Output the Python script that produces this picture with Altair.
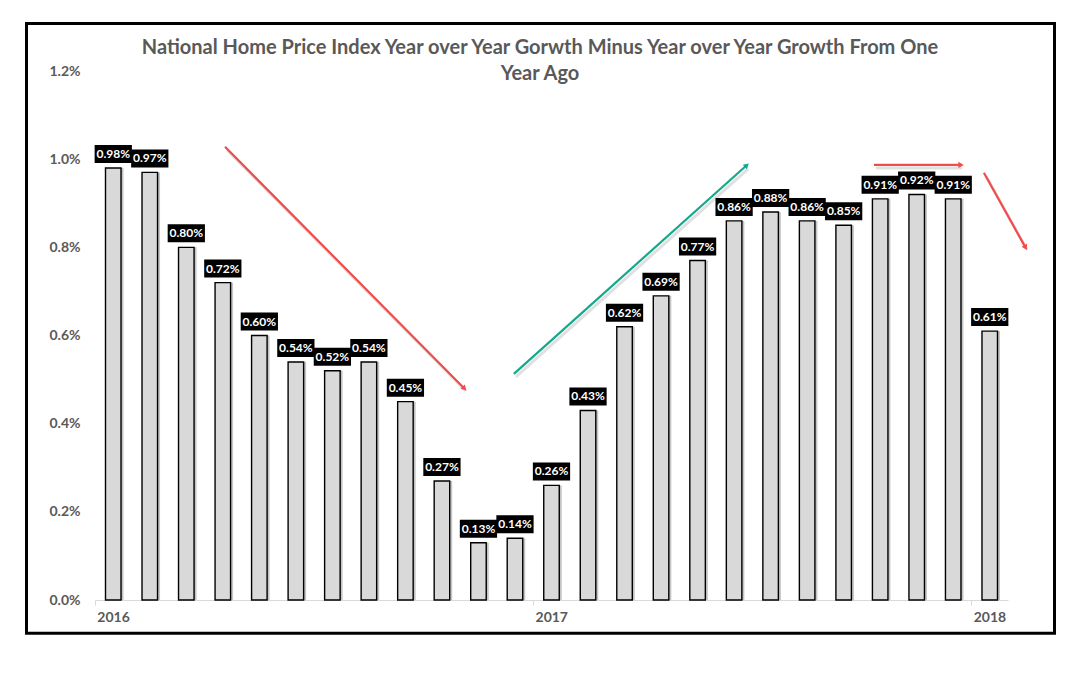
import math
import altair as alt
import pandas as pd

# ---------------- data ----------------
months = ["2016-01", "2016-02", "2016-03", "2016-04", "2016-05", "2016-06",
          "2016-07", "2016-08", "2016-09", "2016-10", "2016-11", "2016-12",
          "2017-01", "2017-02", "2017-03", "2017-04", "2017-05", "2017-06",
          "2017-07", "2017-08", "2017-09", "2017-10", "2017-11", "2017-12",
          "2018-01"]
values_pct = [0.98, 0.97, 0.80, 0.72, 0.60, 0.54, 0.52, 0.54, 0.45, 0.27, 0.13, 0.14,
              0.26, 0.43, 0.62, 0.69, 0.77, 0.86, 0.88, 0.86, 0.85, 0.91, 0.92, 0.91,
              0.61]
year_tick_positions = [0, 12, 24]
year_labels = ["2016", "2017", "2018"]
title_lines = ["National Home Price Index Year over Year Gorwth Minus Year over Year Growth From One",
               "Year Ago"]

# annotation arrows (month index, fraction)
arrow_x1 = [3.56, 11.47, 21.33, 24.34]
arrow_y1 = [0.01028, 0.00513, 0.00987, 0.00969]
arrow_x2 = [10.10, 17.83, 23.69, 25.47]
arrow_y2 = [0.00481, 0.00985, 0.00987, 0.00801]
arrow_colors = ["#F24B4B", "#14A98A", "#F24B4B", "#F24B4B"]

# ---------------- layout ----------------
W, H = 913, 529
X_MAX = 25
Y_MAX = 0.012
GRAY = "#595959"
FONT = "Lato"

bars = pd.DataFrame({"month": months, "pct": values_pct})
bars["v"] = bars["pct"] / 100.0
bars["idx"] = range(len(months))

px_x = W / X_MAX
px_y = H / Y_MAX
angles = []
for a, b, c, d in zip(arrow_x1, arrow_y1, arrow_x2, arrow_y2):
    dx = (c - a) * px_x
    dy = -(d - b) * px_y
    angles.append((math.degrees(math.atan2(dy, dx)) + 90) % 360)
arrows = pd.DataFrame({"x1": arrow_x1, "y1": arrow_y1, "x2": arrow_x2, "y2": arrow_y2,
                       "color": arrow_colors, "angle": angles})

xscale = alt.Scale(domain=[0, X_MAX], nice=False, zero=False)
yscale = alt.Scale(domain=[0, Y_MAX], nice=False)

label_expr = " : ".join(
    [f"datum.value == {p} ? '{l}'" for p, l in zip(year_tick_positions, year_labels)] + ["''"]
)

x_axis = alt.Axis(values=year_tick_positions, labelExpr=label_expr, title=None,
                  grid=False, domainColor="#D9D9D9", domainWidth=1,
                  tickColor="#D9D9D9", tickSize=5, labelAlign="center",
                  labelOffset=18, labelPadding=5, labelFont=FONT,
                  labelFontWeight="bold", labelFontSize=14, labelColor=GRAY)
y_axis = alt.Axis(values=[0, 0.002, 0.004, 0.006, 0.008, 0.010, 0.012], format=".1%",
                  title=None, grid=False, domain=False, ticks=False,
                  labelPadding=15, labelFont=FONT, labelFontWeight="bold",
                  labelFontSize=14, labelColor=GRAY)

base = alt.Chart(bars).transform_calculate(
    c="datum.idx + 0.5",
    xl="datum.idx + 0.5 - 0.2125",
    xr="datum.idx + 0.5 + 0.2125",
    bl="datum.idx + 0.5 - 0.51",
    br="datum.idx + 0.5 + 0.51",
)

shadow = base.mark_rect(color="#7f7f7f", opacity=0.45, xOffset=2.5, x2Offset=2.5).encode(
    x=alt.X("xl:Q", scale=xscale, axis=x_axis),
    x2="xr:Q",
    y=alt.Y("v:Q", scale=yscale, axis=y_axis),
    y2=alt.datum(0),
)

bar_layer = base.mark_rect(fill="#D9D9D9", stroke="black", strokeWidth=1.4).encode(
    x=alt.X("xl:Q", scale=xscale),
    x2="xr:Q",
    y=alt.Y("v:Q", scale=yscale),
    y2=alt.datum(0),
)

boxes = base.mark_rect(color="black", yOffset=-5, y2Offset=-23).encode(
    x=alt.X("bl:Q", scale=xscale), x2="br:Q",
    y=alt.Y("v:Q", scale=yscale), y2="v:Q",
)

texts = base.mark_text(color="white", font=FONT, fontWeight="bold", fontSize=12,
                       baseline="middle", align="center", dy=-14).encode(
    x=alt.X("c:Q", scale=xscale),
    y=alt.Y("v:Q", scale=yscale),
    text=alt.Text("v:Q", format=".2%"),
)

arrow_base = alt.Chart(arrows)
arrow_shadow = arrow_base.mark_rule(strokeWidth=3, color="#000000", opacity=0.12,
                                    xOffset=2, x2Offset=2, yOffset=3, y2Offset=3).encode(
    x=alt.X("x1:Q", scale=xscale), x2="x2:Q",
    y=alt.Y("y1:Q", scale=yscale), y2="y2:Q",
)
arrow_lines = arrow_base.mark_rule(strokeWidth=2.2).encode(
    x=alt.X("x1:Q", scale=xscale), x2="x2:Q",
    y=alt.Y("y1:Q", scale=yscale), y2="y2:Q",
    color=alt.Color("color:N", scale=None),
)
arrow_heads = arrow_base.mark_point(shape="triangle", filled=True, size=38, opacity=1).encode(
    x=alt.X("x2:Q", scale=xscale),
    y=alt.Y("y2:Q", scale=yscale),
    color=alt.Color("color:N", scale=None),
    angle=alt.Angle("angle:Q", scale=None),
)

title_text = alt.Chart(pd.DataFrame({"t": [title_lines]})).mark_text(
    font=FONT, fontSize=20, fontWeight="bold", color=GRAY, align="center",
    baseline="alphabetic", lineHeight=26
).encode(
    text="t", x=alt.value(445), y=alt.value(-17)
)

frame = alt.Chart(pd.DataFrame({"k": [0]})).mark_rect(
    fill=None, stroke="black", strokeWidth=3
).encode(
    x=alt.value(-68.5), x2=alt.value(959.5), y=alt.value(-47.5), y2=alt.value(562.3)
)

chart = alt.layer(
    shadow, bar_layer, arrow_shadow, arrow_lines, arrow_heads, boxes, texts, title_text, frame
).properties(
    width=W, height=H,
    padding={"left": 87, "top": 63, "right": 52, "bottom": 40},
    autosize=alt.AutoSizeParams(type="none"),
    background="white",
).configure_view(stroke=None)

chart.save("out.html", embed_options={"renderer": "svg", "actions": False})
